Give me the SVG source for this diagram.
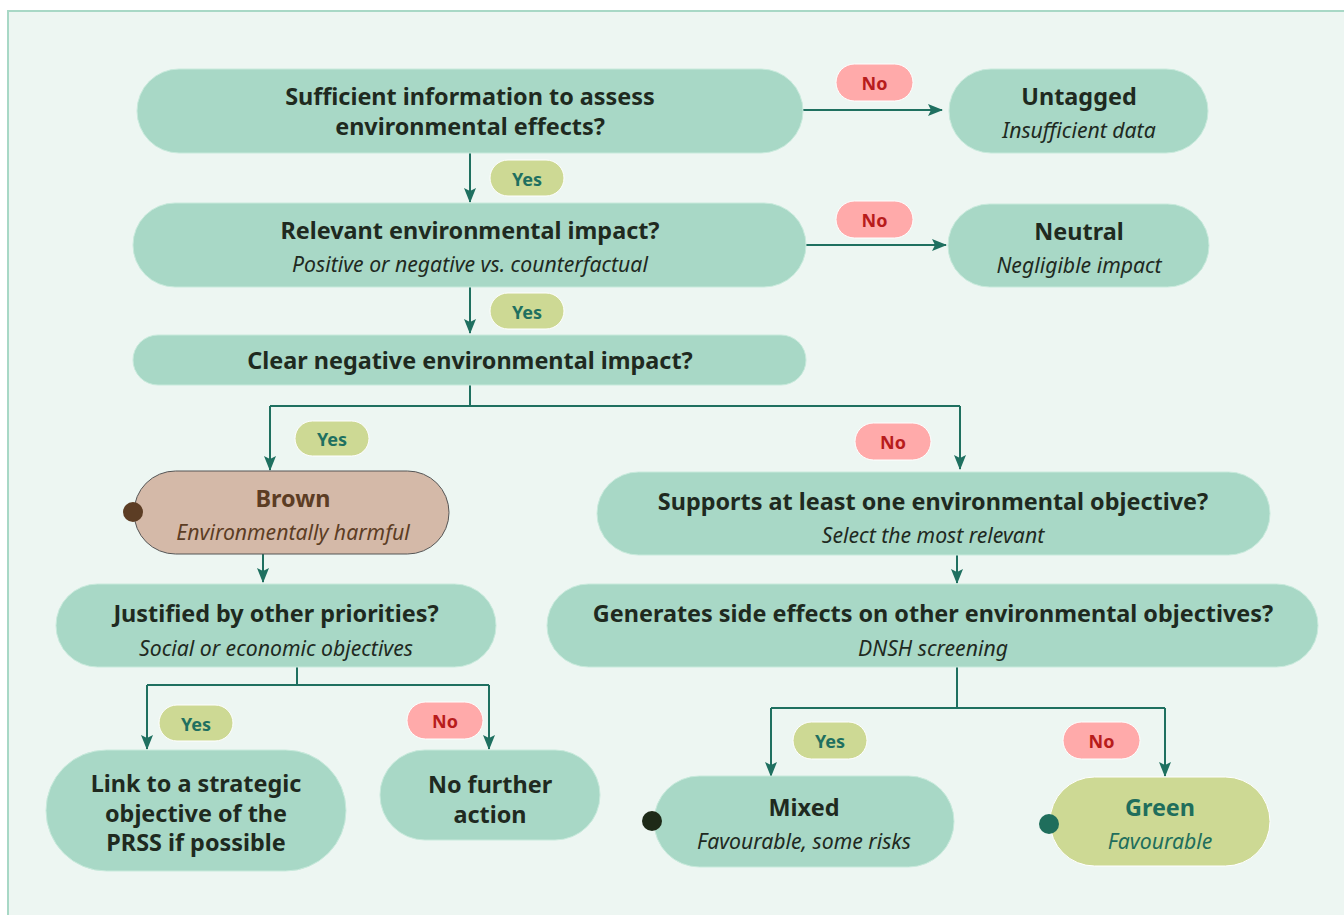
<svg xmlns="http://www.w3.org/2000/svg" width="1344" height="915" viewBox="0 0 1344 915">
<style>
.bg{fill:#edf6f2;stroke:#a8d8c6;stroke-width:2}
.node{fill:#a8d8c6;stroke:#c8eadc;stroke-width:1}
.brown{fill:#d4b9a8;stroke:#555555;stroke-width:1}
.green{fill:#cdd994;stroke:#ffffff;stroke-width:1}
.t{font-family:"Noto Sans","Open Sans",sans-serif;font-weight:700;font-size:23.4px;fill:#1f2a1f;text-anchor:middle}
.s{font-family:"Noto Sans","Open Sans",sans-serif;font-style:italic;font-size:21.2px;fill:#1f2a1f;text-anchor:middle}
.yes{fill:#cdd994;stroke:#ffffff;stroke-width:1}
.no{fill:#ffaaaa;stroke:#ffffff;stroke-width:1}
.yt{font-family:"Noto Sans","Open Sans",sans-serif;font-weight:700;font-size:18px;fill:#1f7060;text-anchor:middle}
.nt{font-family:"Noto Sans","Open Sans",sans-serif;font-weight:700;font-size:18px;fill:#b81c1c;text-anchor:middle}
.edge{fill:none;stroke:#1f7060;stroke-width:2;marker-end:url(#arr)}
.line{fill:none;stroke:#1f7060;stroke-width:2}
</style>
<defs>
<marker id="arr" viewBox="0 0 15 14" refX="14" refY="7" markerWidth="15" markerHeight="14" markerUnits="userSpaceOnUse" orient="auto">
<path d="M0,1 L15,7 L0,13 L3,7 Z" fill="#1f7060"/>
</marker>
</defs>
<rect class="bg" x="8" y="11" width="1400" height="1000"/>

<g id="connectors">
<path class="edge" d="M803,110 H942"/>
<path class="edge" d="M806,245 H946"/>
<path class="edge" d="M470,153 V202"/>
<path class="edge" d="M470,287 V333"/>
<path class="line" d="M470,385 V406 M270,406 H960"/>
<path class="edge" d="M270,406 V470"/>
<path class="edge" d="M960,406 V469"/>
<path class="edge" d="M263,554 V582"/>
<path class="line" d="M297,667 V685 M147,685 H489"/>
<path class="edge" d="M147,685 V749"/>
<path class="edge" d="M489,685 V749"/>
<path class="edge" d="M957,555 V583"/>
<path class="line" d="M957,667 V708 M771,708 H1165"/>
<path class="edge" d="M771,708 V776"/>
<path class="edge" d="M1165,708 V776"/>
</g>

<g id="labels">
<rect class="no" x="836" y="64" width="77" height="37" rx="18.5"/>
<text class="nt" x="874.5" y="90">No</text>
<rect class="no" x="836" y="201" width="77" height="37" rx="18.5"/>
<text class="nt" x="874.5" y="227">No</text>
<rect class="yes" x="490" y="160" width="74" height="36" rx="18"/>
<text class="yt" x="527" y="186">Yes</text>
<rect class="yes" x="490" y="293" width="74" height="36" rx="18"/>
<text class="yt" x="527" y="319">Yes</text>
<rect class="yes" x="295" y="421" width="74" height="35" rx="17.5"/>
<text class="yt" x="332" y="446">Yes</text>
<rect class="no" x="855" y="423" width="76" height="37" rx="18.5"/>
<text class="nt" x="893" y="449">No</text>
<rect class="yes" x="159" y="705" width="74" height="36" rx="18"/>
<text class="yt" x="196" y="731">Yes</text>
<rect class="no" x="407" y="702" width="76" height="37" rx="18.5"/>
<text class="nt" x="445" y="728">No</text>
<rect class="yes" x="793" y="722" width="74" height="37" rx="18.5"/>
<text class="yt" x="830" y="748">Yes</text>
<rect class="no" x="1063" y="722" width="77" height="37" rx="18.5"/>
<text class="nt" x="1101.5" y="748">No</text>
</g>

<g id="n-sufficient">
<rect class="node" x="137" y="69" width="666" height="84" rx="42"/>
<text class="t" x="470" y="105">Sufficient information to assess</text>
<text class="t" x="470" y="135">environmental effects?</text>
</g>
<g id="n-untagged">
<rect class="node" x="949" y="69" width="259" height="84" rx="42"/>
<text class="t" x="1079" y="105">Untagged</text>
<text class="s" x="1079" y="138">Insufficient data</text>
</g>
<g id="n-relevant">
<rect class="node" x="133" y="203" width="673" height="84" rx="42"/>
<text class="t" x="470" y="239">Relevant environmental impact?</text>
<text class="s" x="470" y="272">Positive or negative vs. counterfactual</text>
</g>
<g id="n-neutral">
<rect class="node" x="948" y="204" width="261" height="83" rx="41.5"/>
<text class="t" x="1079" y="240">Neutral</text>
<text class="s" x="1079" y="273">Negligible impact</text>
</g>
<g id="n-clear">
<rect class="node" x="133" y="335" width="673" height="50" rx="25"/>
<text class="t" x="470" y="369">Clear negative environmental impact?</text>
</g>
<g id="n-brown">
<rect class="brown" x="134" y="471" width="315" height="83" rx="41.5"/>
<circle cx="133" cy="512" r="10" fill="#5c3d24"/>
<text class="t" x="293" y="507" style="fill:#5c3d24">Brown</text>
<text class="s" x="293" y="540" style="fill:#5c3d24">Environmentally harmful</text>
</g>
<g id="n-justified">
<rect class="node" x="56" y="584" width="440" height="83" rx="41.5"/>
<text class="t" x="276" y="622">Justified by other priorities?</text>
<text class="s" x="276" y="656">Social or economic objectives</text>
</g>
<g id="n-link">
<rect class="node" x="46" y="750" width="300" height="121" rx="60.5"/>
<text class="t" x="196" y="792">Link to a strategic</text>
<text class="t" x="196" y="822">objective of the</text>
<text class="t" x="196" y="851">PRSS if possible</text>
</g>
<g id="n-nofurther">
<rect class="node" x="380" y="750" width="220" height="90" rx="45"/>
<text class="t" x="490" y="793">No further</text>
<text class="t" x="490" y="823">action</text>
</g>
<g id="n-supports">
<rect class="node" x="597" y="472" width="673" height="83" rx="41.5"/>
<text class="t" x="933" y="510">Supports at least one environmental objective?</text>
<text class="s" x="933" y="543">Select the most relevant</text>
</g>
<g id="n-generates">
<rect class="node" x="547" y="584" width="771" height="83" rx="41.5"/>
<text class="t" x="933" y="622">Generates side effects on other environmental objectives?</text>
<text class="s" x="933" y="656">DNSH screening</text>
</g>
<g id="n-mixed">
<rect class="node" x="654" y="776" width="300" height="91" rx="45.5"/>
<circle cx="652" cy="821" r="10" fill="#1e2a18"/>
<text class="t" x="804" y="816">Mixed</text>
<text class="s" x="804" y="849">Favourable, some risks</text>
</g>
<g id="n-green">
<rect class="green" x="1050" y="777" width="220" height="89" rx="44.5"/>
<circle cx="1049" cy="824" r="10" fill="#1f6e5c"/>
<text class="t" x="1160" y="816" style="fill:#1f6e5c">Green</text>
<text class="s" x="1160" y="849" style="fill:#1f6e5c">Favourable</text>
</g>
</svg>
